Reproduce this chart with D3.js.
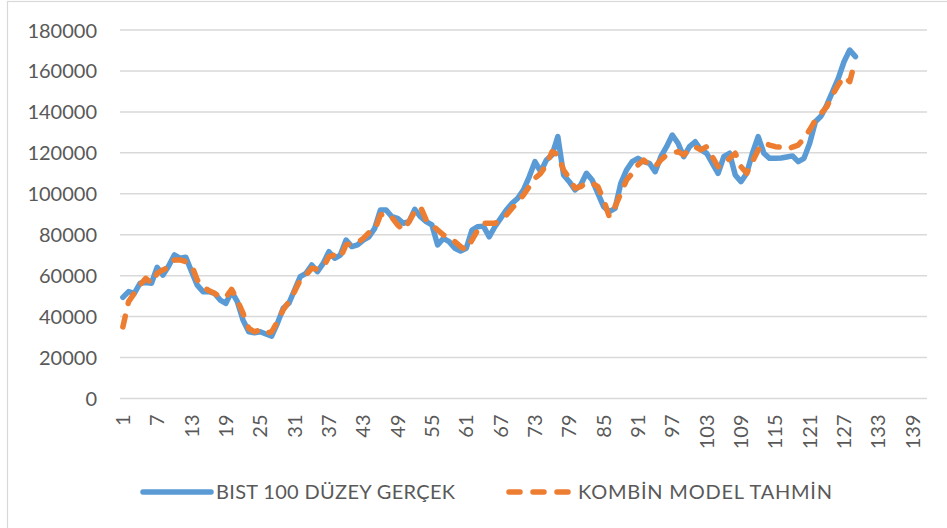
<!DOCTYPE html>
<html>
  <head>
    <meta charset="utf-8">
    <script src="https://cdn.jsdelivr.net/npm/d3@7"></script>
    <style>
      body { margin: 0; background: #fff; }
      text { font-family: Lato, "Open Sans", sans-serif; fill: #595959; }
    </style>
  </head>
  <body>
    <svg id="chart"></svg>
    <script>

    var width = 947
    var height = 528

    // series names
    var seriesNames = ["BIST 100 DÜZEY GERÇEK", "KOMBİN MODEL TAHMİN"]

    // x categories 1..141 (only 129 have values)
    var categories = d3.range(1, 142)

    var actual = [
      49400, 52200, 51400, 56300, 56600, 56300, 64100, 60300, 64700, 70100,
      68500, 69000, 62000, 55400, 52200, 52200, 51400, 48100, 46500, 52200,
      47300, 38300, 32600, 32100, 32600, 31500, 30500, 36700, 44000, 46500,
      53000, 59500, 61100, 65200, 62000, 66000, 71700, 68500, 70100, 77400,
      74200, 75000, 77400, 79000, 83100, 92100, 92100, 88800, 88000, 85600,
      86400, 92400, 88800, 86400, 84800, 75000, 78200, 76600, 73400, 72000,
      73400, 82300, 83900, 84200, 79000, 83900, 88000, 92100, 95300, 97800,
      101900, 108300, 115700, 110800, 116500, 119000, 127900, 109200, 105900, 101900,
      104300, 110000, 106700, 100200, 93700, 91300, 92900, 105100, 111600, 115700,
      117300, 115700, 114900, 110800, 118100, 123000, 128700, 124700, 118100, 123000,
      125400, 121400, 119800, 114900, 110000, 118100, 119800, 109200, 105900, 110000,
      119800, 127900, 119800, 117300, 117300, 117500, 118000, 118500, 115700, 117300,
      124700, 135200, 138000, 143400, 149900, 156400, 164500, 170200, 167000
    ]

    var forecast = [
      35000, 47300, 51400, 55500, 58700, 56300, 61100, 62800, 64100, 67700,
      67700, 66800, 65200, 57900, 54600, 52700, 51400, 49700, 49400, 53300,
      48100, 41600, 34300, 32600, 33500, 31800, 32600, 37500, 43200, 47300,
      52200, 57900, 60300, 63600, 63200, 64100, 69300, 70100, 68800, 75000,
      75800, 76100, 78200, 81000, 82300, 89600, 90500, 88500, 84800, 82300,
      86400, 91300, 93700, 87200, 84800, 82300, 79900, 79000, 76600, 74200,
      72500, 77400, 82300, 85600, 85600, 85600, 87200, 89600, 92900, 96100,
      99400, 103500, 107600, 110000, 114100, 120600, 119000, 111600, 107600, 102700,
      103500, 105400, 105100, 103500, 97000, 88800, 93700, 100200, 106700, 110000,
      114100, 116500, 114100, 113200, 116500, 119000, 119800, 120600, 119000, 121400,
      123000, 121400, 123000, 118100, 113200, 114100, 117300, 119800, 113200, 110000,
      115700, 121400, 124700, 123800, 123000, 122800, 121700, 122800, 123800, 127100,
      131200, 136000, 139300, 142500, 148300, 153200, 157200, 154800, 165400
    ]

    var yTicks = d3.range(0, 180001, 20000)
    var xTickLabels = categories.filter(function(d) { return (d - 1) % 6 == 0 })

    var svg = d3.select("#chart")
      .attr("width", width)
      .attr("height", height)

    // chart area border
    svg.append("rect")
      .attr("x", 7.5).attr("y", 1.5)
      .attr("width", 1000).attr("height", 1000)
      .attr("fill", "none")
      .attr("stroke", "#d9d9d9")
      .attr("stroke-width", 1.2)

    var x = d3.scaleBand()
      .domain(categories)
      .range([120, 927])

    var y = d3.scaleLinear()
      .domain([0, 180000])
      .range([398.5, 30])

    // gridlines
    svg.append("g")
      .selectAll("line")
      .data(yTicks)
      .enter().append("line")
      .attr("x1", 120).attr("x2", 927)
      .attr("y1", function(d) { return y(d) })
      .attr("y2", function(d) { return y(d) })
      .attr("stroke", "#d9d9d9")
      .attr("stroke-width", 1.5)

    // y axis
    var yAxis = svg.append("g")
      .attr("transform", "translate(97,0)")
      .call(d3.axisLeft(y).tickValues(yTicks).tickSize(0).tickPadding(0).tickFormat(d3.format("d")))
    yAxis.select(".domain").remove()
    yAxis.selectAll("text")
      .style("font-size", "20px")
      .attr("dy", "0.35em")

    // x axis
    var xAxis = svg.append("g")
      .attr("transform", "translate(0,398.5)")
      .call(d3.axisBottom(x).tickValues(xTickLabels).tickSize(0).tickPadding(0))
    xAxis.select(".domain").remove()
    xAxis.selectAll("text")
      .style("font-size", "20px")
      .attr("transform", "rotate(-90)")
      .attr("text-anchor", "end")
      .attr("x", -16)
      .attr("y", 0)
      .attr("dy", "0.35em")

    var line = d3.line()
      .x(function(d, i) { return x(categories[i]) + x.bandwidth() / 2 })
      .y(function(d) { return y(d) })

    svg.append("path")
      .datum(actual)
      .attr("d", line)
      .attr("fill", "none")
      .attr("stroke", "#5b9bd5")
      .attr("stroke-width", 5.5)
      .attr("stroke-linejoin", "round")
      .attr("stroke-linecap", "round")

    svg.append("path")
      .datum(forecast)
      .attr("d", line)
      .attr("fill", "none")
      .attr("stroke", "#ed7d31")
      .attr("stroke-width", 5.5)
      .attr("stroke-linejoin", "round")
      .attr("stroke-linecap", "round")
      .attr("stroke-dasharray", "11,13")

    // legend
    var legend = svg.append("g").attr("class", "legend")

    legend.append("line")
      .attr("x1", 143).attr("x2", 211)
      .attr("y1", 492).attr("y2", 492)
      .attr("stroke", "#5b9bd5")
      .attr("stroke-width", 5.5)
      .attr("stroke-linecap", "round")
    legend.append("text")
      .attr("x", 216).attr("y", 492)
      .attr("dy", "0.35em")
      .attr("textLength", 239)
      .style("font-size", "20px")
      .text(seriesNames[0])

    legend.append("line")
      .attr("x1", 509).attr("x2", 568)
      .attr("y1", 492).attr("y2", 492)
      .attr("stroke", "#ed7d31")
      .attr("stroke-width", 5.5)
      .attr("stroke-linecap", "round")
      .attr("stroke-dasharray", "11,13")
    legend.append("text")
      .attr("x", 578).attr("y", 492)
      .attr("dy", "0.35em")
      .attr("textLength", 254)
      .style("font-size", "20px")
      .text(seriesNames[1])

    </script>
  </body>
</html>
